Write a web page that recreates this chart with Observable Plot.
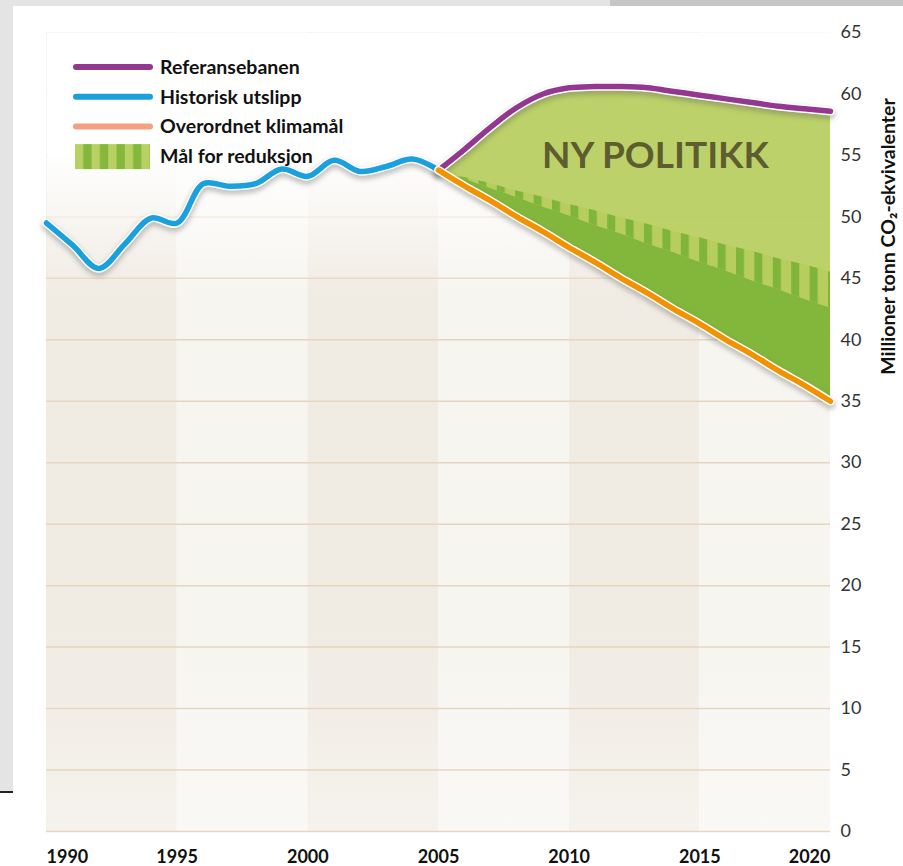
<!DOCTYPE html>
<html><head><meta charset="utf-8">
<script src="https://cdn.jsdelivr.net/npm/d3@7"></script>
<script src="https://cdn.jsdelivr.net/npm/@observablehq/plot@0.6"></script>
<style>
body{margin:0;background:#fff;}
#wrap{position:relative;width:903px;height:866px;overflow:hidden;font-family:Lato,"Open Sans",sans-serif;}
.frame{position:absolute;}
#chart{position:absolute;left:0;top:0;}
#legend{position:absolute;left:0;top:0;}
</style></head><body>
<div id="wrap">
  <div class="frame" style="left:0;top:0;width:13px;height:791px;background:#e4e4e4"></div>
  <div class="frame" style="left:0;top:0;width:610px;height:6px;background:#e4e4e4"></div>
  <div class="frame" style="left:610px;top:0;width:293px;height:6px;background:#c6c6c6"></div>
  <div class="frame" style="left:0;top:791px;width:13px;height:2px;background:#222"></div>
  <div id="chart"></div>
  <svg id="legend" width="420" height="185"></svg>
</div>
<script>
// ---- data ----
const histYears = [1990,1991,1992,1993,1994,1995,1996,1997,1998,1999,2000,2001,2002,2003,2004,2005];
const histValues = [49.5,47.7,45.8,47.8,49.9,49.5,52.7,52.5,52.7,53.9,53.3,54.6,53.7,54.1,54.7,53.8];

const projYears = [2005,2006,2007,2008,2009,2010,2011,2012,2013,2014,2015,2016,2017,2018,2019,2020];
const refValues = [53.8,55.5,57.3,58.9,60.0,60.5,60.6,60.6,60.5,60.2,59.9,59.6,59.3,59.0,58.8,58.6];
const targetValues = [53.8,52.5,51.3,50.0,48.8,47.5,46.3,45.0,43.8,42.5,41.3,40.0,38.8,37.5,36.3,35.0];
const reductionUpper = [53.8,53.2,52.7,52.1,51.6,51.0,50.5,49.9,49.4,48.8,48.3,47.7,47.2,46.6,46.1,45.5];
const reductionLower = [53.8,53.1,52.3,51.6,50.8,50.1,49.3,48.6,47.8,47.1,46.3,45.6,44.8,44.1,43.3,42.6];

const xTicks = [1990,1995,2000,2005,2010,2015,2020];
const yTicks = [0,5,10,15,20,25,30,35,40,45,50,55,60,65];
const yLabel = "Millioner tonn CO₂-ekvivalenter";
const annotations = [{text: "NY POLITIKK", year: 2013.3, value: 54.9}];

const legendLabels = ["Referansebanen","Historisk utslipp","Overordnet klimamål","Mål for reduksjon"];
const legendColors = ["#93378f","#1aa0dc","#f5a07f",null];

// ---- tables ----
const hist = histYears.map((year,i)=>({year, value: histValues[i]}));
const proj = projYears.map((year,i)=>({year, ref: refValues[i], target: targetValues[i], upper: reductionUpper[i], lower: reductionLower[i]}));
const bands = d3.pairs(xTicks).map(([a,b],i)=>({start:a,end:b,dark:i%2===0}));
const gridVals = yTicks.slice(0,-1);

const C = {purple:"#93378f", blue:"#1aa0dc", orange:"#f39200", light:"#b7cd5e", dark:"#7fb53a"};
const FONT = "Lato, 'Open Sans', sans-serif";

function lineWithHalo(data, y, color) {
  const opts = {x:"year", y, curve:"catmull-rom"};
  return [
    Plot.line(data, {...opts, stroke:"#555", strokeOpacity:0.35, strokeWidth:10, dy:3, ariaDescription:"shadow"}),
    Plot.line(data, {...opts, stroke:"white", strokeWidth:8.5}),
    Plot.line(data, {...opts, stroke:color, strokeWidth:5.5})
  ];
}

const chart = Plot.plot({
  width: 903, height: 866,
  marginLeft: 46, marginRight: 73, marginTop: 32, marginBottom: 35,
  x: {domain: [xTicks[0], xTicks[xTicks.length-1]]},
  y: {domain: [yTicks[0], yTicks[yTicks.length-1]]},
  style: {background: "transparent", fontFamily: FONT, overflow: "visible"},
  marks: [
    Plot.rect(bands.filter(d=>d.dark), {x1:"start", x2:"end", fill:"url(#bandDark)"}),
    Plot.rect(bands.filter(d=>!d.dark), {x1:"start", x2:"end", fill:"url(#bandLight)"}),
    Plot.ruleY(gridVals, {stroke:"#e6d6bf", strokeWidth:1.5}),
    Plot.frame({fill:"url(#fade)", stroke:null}),
    Plot.areaY(proj, {x:"year", y1:"target", y2:"ref", fill:C.light, fillOpacity:0.93, curve:"catmull-rom"}),
    Plot.areaY(proj, {x:"year", y1:"target", y2:"lower", fill:C.dark, fillOpacity:0.95, curve:"catmull-rom"}),
    Plot.areaY(proj, {x:"year", y1:"lower", y2:"upper", fill:"url(#stripes)", curve:"catmull-rom"}),
    Plot.text(annotations, {x:"year", y:"value", text:"text", fontSize:37, fontWeight:"bold", fill:"#55522a", fillOpacity:0.92}),
    ...lineWithHalo(hist, "value", C.blue),
    ...lineWithHalo(proj, "ref", C.purple),
    ...lineWithHalo(proj, "target", C.orange),
    Plot.axisY({anchor:"right", ticks:yTicks, tickSize:0, tickPadding:10, fontSize:18, fill:"#333", label:null}),
    Plot.axisX({ticks:xTicks.slice(0,1), tickFormat:"d", textAnchor:"start", tickSize:0, tickPadding:19, fontSize:18, fontWeight:"bold", fill:"#111", label:null}),
    Plot.axisX({ticks:xTicks.slice(1,-1), tickFormat:"d", tickSize:0, tickPadding:19, fontSize:18, fontWeight:"bold", fill:"#111", label:null}),
    Plot.axisX({ticks:xTicks.slice(-1), tickFormat:"d", textAnchor:"end", tickSize:0, tickPadding:19, fontSize:18, fontWeight:"bold", fill:"#111", label:null}),
    Plot.text([yLabel], {text:d=>d, frameAnchor:"top-right", textAnchor:"middle", lineAnchor:"middle", rotate:-90, dx:58, dy:204, fontSize:19.5, fontWeight:"bold", fill:"#111"})
  ]
});

const svg = d3.select(chart);
const defs = svg.insert("defs", ":first-child");
function bandGrad(id, col) {
  const g = defs.append("linearGradient").attr("id", id).attr("x1",0).attr("y1",0).attr("x2",0).attr("y2",1);
  g.append("stop").attr("offset",0).attr("stop-color",col).attr("stop-opacity",1);
  g.append("stop").attr("offset",0.75).attr("stop-color",col).attr("stop-opacity",1);
  g.append("stop").attr("offset",1).attr("stop-color",col).attr("stop-opacity",0.65);
}
bandGrad("bandDark", "#f0ebe3");
bandGrad("bandLight", "#f7f5f0");
const fade = defs.append("linearGradient").attr("id","fade").attr("x1",0).attr("y1",0).attr("x2",0).attr("y2",1);
fade.append("stop").attr("offset",0).attr("stop-color","#fff").attr("stop-opacity",1);
fade.append("stop").attr("offset",0.15).attr("stop-color","#fff").attr("stop-opacity",1);
fade.append("stop").attr("offset",0.33).attr("stop-color","#fff").attr("stop-opacity",0);
fade.append("stop").attr("offset",1).attr("stop-color","#fff").attr("stop-opacity",0);
const pat = defs.append("pattern").attr("id","stripes").attr("patternUnits","userSpaceOnUse").attr("width",18.4).attr("height",20);
pat.append("rect").attr("width",18.4).attr("height",20).attr("fill",C.light);
pat.append("rect").attr("width",8).attr("height",20).attr("fill",C.dark);
svg.selectAll('g[aria-description="shadow"]').style("filter","blur(2.5px)");

document.getElementById("chart").appendChild(chart);

// ---- legend ----
const lg = d3.select("#legend");
const ldefs = lg.append("defs");
const lpat = ldefs.append("pattern").attr("id","legStripes").attr("patternUnits","userSpaceOnUse").attr("x",75).attr("width",16.6).attr("height",30);
lpat.append("rect").attr("width",16.6).attr("height",30).attr("fill","#b9d065");
lpat.append("rect").attr("x",8.3).attr("width",8.3).attr("height",30).attr("fill","#84b73b");
ldefs.append("filter").attr("id","lblur").append("feGaussianBlur").attr("stdDeviation",2.2);
legendLabels.forEach((label,i)=>{
  const y = 67 + i*29.7;
  const g = lg.append("g");
  if (legendColors[i]) {
    g.append("line").attr("x1",76).attr("x2",150).attr("y1",y+4).attr("y2",y+4).attr("stroke","#777").attr("stroke-opacity",0.45).attr("stroke-width",8).attr("stroke-linecap","round").attr("filter","url(#lblur)");
    g.append("line").attr("x1",76).attr("x2",150).attr("y1",y).attr("y2",y).attr("stroke","white").attr("stroke-width",9).attr("stroke-linecap","round");
    g.append("line").attr("x1",76).attr("x2",150).attr("y1",y).attr("y2",y).attr("stroke",legendColors[i]).attr("stroke-width",6).attr("stroke-linecap","round");
  } else {
    g.append("rect").attr("x",75).attr("y",y-12).attr("width",75).attr("height",25).attr("fill","url(#legStripes)");
  }
  g.append("text").attr("x",160).attr("y",y).attr("dy","0.36em").attr("font-size",19.5).attr("font-weight","bold").attr("fill","#111").attr("font-family",FONT).text(label);
});
</script>
</body></html>
